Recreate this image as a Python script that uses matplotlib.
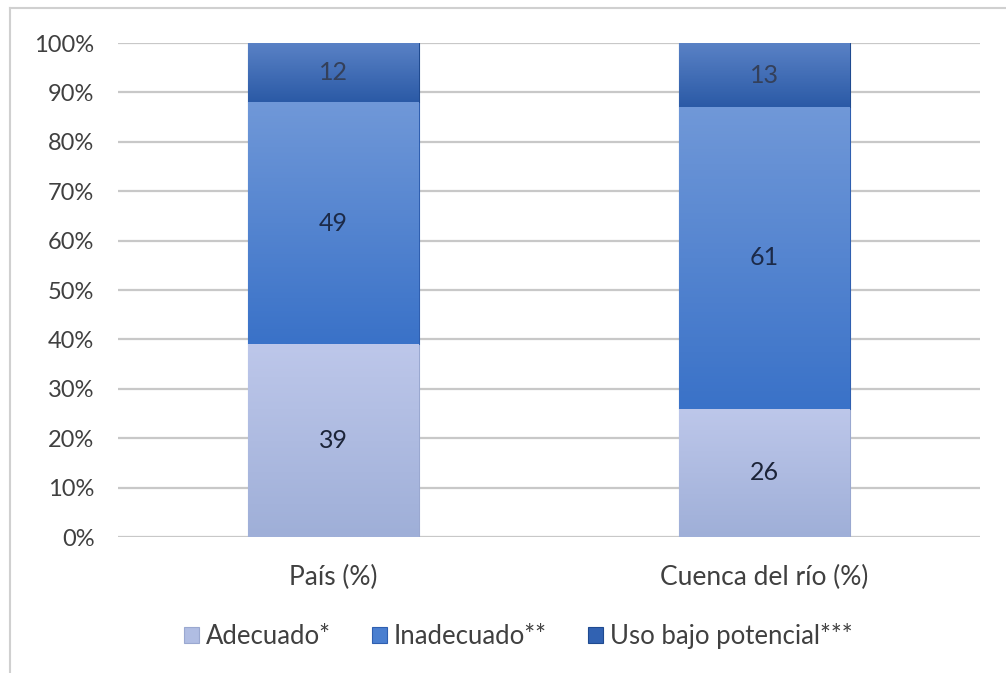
import matplotlib
matplotlib.use("Agg")
import matplotlib.pyplot as plt
import numpy as np
from matplotlib.lines import Line2D
from matplotlib.colors import LinearSegmentedColormap

categories = ["País (%)", "Cuenca del río (%)"]
series_names = ["Adecuado*", "Inadecuado**", "Uso bajo potencial***"]
adecuado = [39, 26]
inadecuado = [49, 61]
uso_bajo = [12, 13]
yticks = [0, 10, 20, 30, 40, 50, 60, 70, 80, 90, 100]
ytick_labels = [f"{v}%" for v in yticks]

values = [adecuado, inadecuado, uso_bajo]
base_colors = ["#b0bde3", "#4a7fd0", "#3162b2"]
grad = [("#bdc7ea", "#9fafd8"), ("#7098d8", "#3a72c8"), ("#5a82c6", "#2b5aa6")]
edge_colors = ["#9aa8d0", "#2f5fb0", "#1f4a90"]
label_colors = ["#1c2438", "#1c2a48", "#34405a"]

plt.rcParams['font.family'] = ['Lato', 'DejaVu Sans']

fig = plt.figure(figsize=(10.06, 6.73), dpi=100)
ax = fig.add_axes([118/1006, 1 - 537/673, 862/1006, (537-43)/673])

x = np.arange(len(categories))
width = 0.395
bottom = np.zeros(len(categories))
for i, (vals, name) in enumerate(zip(values, series_names)):
    bars = ax.bar(x, vals, width, bottom=bottom, color=base_colors[i],
                  edgecolor=edge_colors[i], linewidth=0.8, label=name, zorder=3)
    cmap = LinearSegmentedColormap.from_list(f"g{i}", [grad[i][1], grad[i][0]])
    for b in bars:
        bx, by, bw, bh = b.get_x(), b.get_y(), b.get_width(), b.get_height()
        img = ax.imshow(np.linspace(0, 1, 100).reshape(-1, 1), cmap=cmap,
                        extent=[bx, bx + bw, by, by + bh], origin='lower',
                        aspect='auto', zorder=3.5)
        img.set_clip_path(b)
    for xi, v, bo in zip(x, vals, bottom):
        ax.text(xi, bo + v / 2, f"{v}", ha='center', va='center',
                fontsize=18, color=label_colors[i], zorder=5)
    bottom += np.array(vals)

ax.set_xlim(-0.5, 1.5)
ax.set_ylim(0, 100)
ax.set_yticks(yticks)
ax.set_yticklabels(ytick_labels, fontsize=17, color="#404040")
ax.set_xticks(x)
ax.set_xticklabels(categories, fontsize=19, color="#404040")
ax.tick_params(axis='both', length=0)
ax.tick_params(axis='y', pad=17)
ax.tick_params(axis='x', pad=20)
ax.yaxis.grid(True, color="#c8c8c8", linewidth=1.6, zorder=0)
ax.set_axisbelow(True)
for s in ax.spines.values():
    s.set_visible(False)

leg = fig.legend(loc='center', bbox_to_anchor=(518/1006, 1 - 636/673), ncol=3,
                 frameon=False, fontsize=18.5, handlelength=0.6, handleheight=0.6,
                 handletextpad=0.25, columnspacing=1.6)
for t in leg.get_texts():
    t.set_color("#404040")

# outer frame (left and top visible)
fig.add_artist(Line2D([10/1006, 10/1006], [0, 1 - 8/673], color="#d0d0d0", linewidth=1.5))
fig.add_artist(Line2D([10/1006, 1], [1 - 8/673, 1 - 8/673], color="#d0d0d0", linewidth=1.5))

fig.savefig("out.png", dpi=100)
